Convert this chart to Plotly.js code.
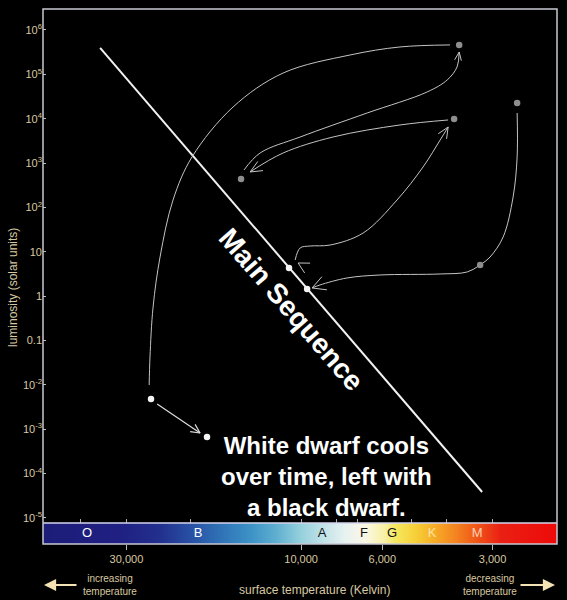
<!DOCTYPE html>
<html>
<head>
<meta charset="utf-8">
<script src="https://cdn.plot.ly/plotly-3.0.1.min.js"></script>
<style>
  html, body { margin: 0; padding: 0; background: #000; }
  #chart { width: 567px; height: 600px; }
</style>
</head>
<body>
<div id="chart"></div>
<script>
// ---------- data ----------
const tempRange = [50700, 2000];          // surface temperature (K), hot -> cool
const lumRange = [7.7e-6, 2.97e6];        // luminosity (solar units)

const lumTicks = [1e6, 1e5, 1e4, 1e3, 1e2, 10, 1, 0.1, 1e-2, 1e-3, 1e-4, 1e-5];
const lumTickText = ['10<sup>6</sup>', '10<sup>5</sup>', '10<sup>4</sup>', '10<sup>3</sup>', '10<sup>2</sup>',
  '10', '1', '0.1', '10<sup>-2</sup>', '10<sup>-3</sup>', '10<sup>-4</sup>', '10<sup>-5</sup>'];
const tempTicks = [30000, 10000, 6000, 3000];
const tempTickText = ['30,000', '10,000', '6,000', '3,000'];
const tempMinorTicks = [40000, 30000, 20000, 10000, 8000, 7000, 5000, 4000, 3000];

const spectralClasses = ['O', 'B', 'A', 'F', 'G', 'K', 'M'];
const spectralTemps = [38440, 19110, 8770, 6730, 5640, 4390, 3305];
const spectralTextColors = ['#ffffff', '#ffffff', '#111111', '#111111', '#111111', '#fbe3a6', '#fbd0b6'];

// colour strip of the spectral sequence
const stripTemps = [52000, 31230, 24280, 20100, 16640, 13780, 11780, 10060, 8770, 7590, 6680, 5890, 5530, 4880, 4390, 3800, 3300, 2860, 1950];
const stripColors = ['#1c1c78', '#1f2082', '#22308e', '#2850a4', '#2f72b6', '#3c92c6', '#5eaed0', '#94d0dc', '#c0e2e8',
  '#e8f2f0', '#faf8e6', '#f8f0a0', '#f5e860', '#f6d038', '#f6b028', '#f48420', '#f05418', '#ea2014', '#ee0808'];

// main sequence
const mainSeqTemp = [35400, 3203];
const mainSeqLum = [3.93e5, 3.85e-5];

// grey points (protostar, giants, horizontal branch)
const greyTemp = [3700, 3820, 14590, 2570, 3243];
const greyLum = [4.6e5, 9860, 438, 22600, 5.04];
// white points (main sequence, white dwarf)
const whiteTemp = [10790, 9630, 25700, 18070];
const whiteLum = [4.31, 1.45, 4.8e-3, 6.7e-4];

// evolutionary tracks
const trackRgbTemp = [10380, 10060, 9446, 8330, 6770, 5470, 4644, 4170, 3966];
const trackRgbLum = [6.53, 12.2, 13.5, 14.2, 26.5, 147, 816, 3313, 6506];
const trackHbTemp = [3966, 5370, 8180, 11200, 13780];
const trackHbLum = [9360, 7220, 3870, 1687, 630];
const trackAgbTemp = [14320, 12940, 10060, 6600, 4528, 3990, 3750, 3700];
const trackAgbLum = [698, 1687, 3870, 13450, 4.0e4, 7.46e4, 1.466e5, 3.19e5];
const trackPnTemp = [26000, 25870, 25370, 24280, 22380, 19860, 15340, 11200, 7350, 5370, 3918];
const trackPnLum = [9.9e-3, 0.0425, 0.570, 7.63, 147, 1371, 18380, 1.07e5, 2.73e5, 4.14e5, 4.6e5];
const trackProtoTemp = [2570, 2570, 2636, 2806, 3047, 3243];
const trackProtoLum = [13450, 1371, 172, 21.6, 7.63, 5.04];
const trackPreMsTemp = [3243, 3518, 4170, 6083, 7490, 8877, 9333];
const trackPreMsLum = [5.04, 3.51, 3.16, 3.0, 2.57, 1.79, 1.53];

// short arrows: [tail, tip]
const coolArrowTemp = [24730, 18880];
const coolArrowLum = [3.71e-3, 8.22e-4];
const msArrowTemp = [9510, 10190];
const msArrowLum = [4.09, 5.59];

// labels
const mainSeqLabel = 'Main Sequence';
const mainSeqLabelTemp = 10650, mainSeqLabelLum = 0.488;
const dwarfLabel = 'White dwarf cools<br>over time, left with<br>a black dwarf.';

// ---------- chart ----------
const L = Math.log10;
const TAN = '#d8c8a0';
const LINE = '#c4c4c4';
const FONT = 'Liberation Sans, Arial, sans-serif';

const W = 567, H = 600, M = { l: 43, r: 10, t: 9, b: 56 };
const plotW = W - M.l - M.r, plotH = H - M.t - M.b, stripH = 21;
const split = stripH / plotH;
const mainH = plotH - stripH;

// pixel scale of the axes (used to shape arrow heads in screen space)
const pxX = plotW / (L(tempRange[0]) - L(tempRange[1]));
const pxY = mainH / (L(lumRange[1]) - L(lumRange[0]));
const toPx = (t, l) => [(L(tempRange[0]) - L(t)) * pxX, (L(lumRange[1]) - L(l)) * pxY];
const fromPx = (px, py) => [Math.pow(10, L(tempRange[0]) - px / pxX), Math.pow(10, L(lumRange[1]) - py / pxY)];

function chevron(tailT, tailL, tipT, tipL, len, half, out) {
  const a = toPx(tailT, tailL), b = toPx(tipT, tipL);
  let dx = a[0] - b[0], dy = a[1] - b[1];
  const n = Math.hypot(dx, dy); dx /= n; dy /= n;
  [half, -half].forEach((ang, k) => {
    const c = Math.cos(ang), s = Math.sin(ang);
    const p = fromPx(b[0] + len * (dx * c - dy * s), b[1] + len * (dx * s + dy * c));
    if (k === 0) { out.x.push(p[0]); out.y.push(p[1]); out.x.push(tipT); out.y.push(tipL); }
    else { out.x.push(p[0]); out.y.push(p[1]); out.x.push(null); out.y.push(null); }
  });
}
function endChevron(t, l, len, half, out) {
  const n = t.length;
  chevron(t[n - 2], l[n - 2], t[n - 1], l[n - 1], len, half, out);
}

const heads = { x: [], y: [] };
const deg = Math.PI / 180;
endChevron(trackRgbTemp, trackRgbLum, 12, 24 * deg, heads);
endChevron(trackHbTemp, trackHbLum, 13, 24 * deg, heads);
endChevron(trackAgbTemp, trackAgbLum, 9, 22 * deg, heads);
endChevron(trackPreMsTemp, trackPreMsLum, 15, 28 * deg, heads);
chevron(msArrowTemp[0], msArrowLum[0], msArrowTemp[1], msArrowLum[1], 12, 28 * deg, heads);
const coolHeads = { x: [], y: [] };
chevron(coolArrowTemp[0], coolArrowLum[0], coolArrowTemp[1], coolArrowLum[1], 10, 26 * deg, coolHeads);

function track(t, l) {
  return { x: t, y: l, xaxis: 'x', yaxis: 'y', type: 'scatter', mode: 'lines',
    line: { color: LINE, width: 1, shape: 'spline', smoothing: 1 }, hoverinfo: 'skip' };
}

const traces = [
  // colour strip
  { type: 'heatmap', xaxis: 'x2', yaxis: 'y2', x: stripTemps, y: [0, 1],
    z: [stripTemps.map((_, i) => i), stripTemps.map((_, i) => i)],
    zmin: 0, zmax: stripTemps.length - 1, zsmooth: 'best', showscale: false, hoverinfo: 'skip',
    colorscale: stripColors.map((c, i) => [i / (stripColors.length - 1), c]) },
  { type: 'scatter', mode: 'text', xaxis: 'x2', yaxis: 'y2', x: spectralTemps,
    y: spectralTemps.map(() => 0.5), text: spectralClasses, hoverinfo: 'skip',
    textfont: { family: FONT, size: 13, color: spectralTextColors } },
  // main sequence
  { type: 'scatter', mode: 'lines', xaxis: 'x', yaxis: 'y', x: mainSeqTemp, y: mainSeqLum,
    line: { color: '#f2f2f2', width: 2 }, hoverinfo: 'skip' },
  track(trackRgbTemp, trackRgbLum),
  track(trackHbTemp, trackHbLum),
  track(trackAgbTemp, trackAgbLum),
  track(trackPnTemp, trackPnLum),
  track(trackProtoTemp, trackProtoLum),
  track(trackPreMsTemp, trackPreMsLum),
  { type: 'scatter', mode: 'lines', xaxis: 'x', yaxis: 'y', x: heads.x, y: heads.y, connectgaps: false,
    line: { color: LINE, width: 1 }, hoverinfo: 'skip' },
  { type: 'scatter', mode: 'lines', xaxis: 'x', yaxis: 'y', x: coolArrowTemp, y: coolArrowLum,
    line: { color: '#dddddd', width: 1.2 }, hoverinfo: 'skip' },
  { type: 'scatter', mode: 'lines', xaxis: 'x', yaxis: 'y', x: coolHeads.x, y: coolHeads.y, connectgaps: false,
    line: { color: '#dddddd', width: 1.2 }, hoverinfo: 'skip' },
  { type: 'scatter', mode: 'markers', xaxis: 'x', yaxis: 'y', x: greyTemp, y: greyLum,
    marker: { color: '#8e8e8e', size: 6.5 }, hoverinfo: 'skip' },
  { type: 'scatter', mode: 'markers', xaxis: 'x', yaxis: 'y', x: whiteTemp, y: whiteLum,
    marker: { color: '#f4f4f4', size: 6.5 }, hoverinfo: 'skip' }
];

const ctr = { xanchor: 'center', yanchor: 'middle', showarrow: false };
const annotations = [
  Object.assign({ xref: 'x', yref: 'y', x: L(mainSeqLabelTemp), y: L(mainSeqLabelLum), text: '<b>' + mainSeqLabel + '</b>',
    textangle: 49, font: { family: FONT, size: 28, color: '#ffffff' } }, ctr),
  Object.assign({ xref: 'paper', yref: 'paper', x: (326 - M.l) / plotW, y: (H - M.b - 476) / plotH,
    text: '<b>' + dwarfLabel + '</b>', align: 'center', font: { family: FONT, size: 24, color: '#ffffff' } }, ctr),
  Object.assign({ xref: 'paper', yref: 'paper', x: (13 - M.l) / plotW, y: (H - M.b - 288) / plotH,
    text: 'luminosity (solar units)', textangle: -90, font: { family: FONT, size: 12, color: TAN } }, ctr),
  Object.assign({ xref: 'paper', yref: 'paper', x: (314 - M.l) / plotW, y: (H - M.b - 590) / plotH,
    text: 'surface temperature (Kelvin)', font: { family: FONT, size: 12, color: TAN } }, ctr),
  Object.assign({ xref: 'paper', yref: 'paper', x: (110 - M.l) / plotW, y: (H - M.b - 585) / plotH,
    text: 'increasing<br>temperature', font: { family: FONT, size: 10, color: TAN } }, ctr),
  Object.assign({ xref: 'paper', yref: 'paper', x: (490 - M.l) / plotW, y: (H - M.b - 585) / plotH,
    text: 'decreasing<br>temperature', font: { family: FONT, size: 10, color: TAN } }, ctr),
  { xref: 'paper', yref: 'paper', x: (44 - M.l) / plotW, y: (H - M.b - 585) / plotH, ax: 34, ay: 0, text: '',
    showarrow: true, arrowhead: 2, arrowsize: 1.1, arrowwidth: 2.2, arrowcolor: '#f2e2b4' },
  { xref: 'paper', yref: 'paper', x: (555 - M.l) / plotW, y: (H - M.b - 585) / plotH, ax: -36, ay: 0, text: '',
    showarrow: true, arrowhead: 2, arrowsize: 1.1, arrowwidth: 2.2, arrowcolor: '#f2e2b4' }
];

const layout = {
  width: W, height: H,
  margin: M,
  paper_bgcolor: '#000000', plot_bgcolor: '#000000',
  showlegend: false, hovermode: false,
  font: { family: FONT, color: TAN },
  xaxis: { type: 'log', range: [L(tempRange[0]), L(tempRange[1])], anchor: 'y',
    showgrid: false, zeroline: false, showline: false, showticklabels: false,
    tickmode: 'array', tickvals: tempMinorTicks, ticks: 'inside', ticklen: 4, tickcolor: '#aaaaaa', tickwidth: 1 },
  xaxis2: { type: 'log', matches: 'x', anchor: 'y2',
    showgrid: false, zeroline: false, showline: false,
    tickmode: 'array', tickvals: tempTicks, ticktext: tempTickText, ticks: 'outside', ticklen: 5,
    tickcolor: '#bbbbbb', tickwidth: 1, tickfont: { family: FONT, size: 11, color: TAN } },
  yaxis: { type: 'log', range: [L(lumRange[0]), L(lumRange[1])], domain: [split, 1], anchor: 'x',
    showgrid: false, zeroline: false, showline: false,
    tickmode: 'array', tickvals: lumTicks, ticktext: lumTickText, ticks: 'inside', ticklen: 3,
    tickcolor: '#bbbbbb', tickwidth: 1, tickfont: { family: FONT, size: 11, color: TAN } },
  yaxis2: { domain: [0, split], range: [-0.5, 1.5], anchor: 'x2', showgrid: false, zeroline: false,
    showticklabels: false, ticks: '', fixedrange: true },
  shapes: [
    { type: 'line', xref: 'paper', yref: 'paper', x0: 0, x1: 1, y0: split, y1: split,
      line: { color: '#d4d4ee', width: 1.5 } },
    { type: 'rect', xref: 'paper', yref: 'paper', x0: 0, x1: 1, y0: 0, y1: 1,
      line: { color: '#c8c8d2', width: 1.5 } }
  ],
  annotations: annotations
};

Plotly.newPlot('chart', traces, layout, { staticPlot: true, displayModeBar: false });
</script>
</body>
</html>
